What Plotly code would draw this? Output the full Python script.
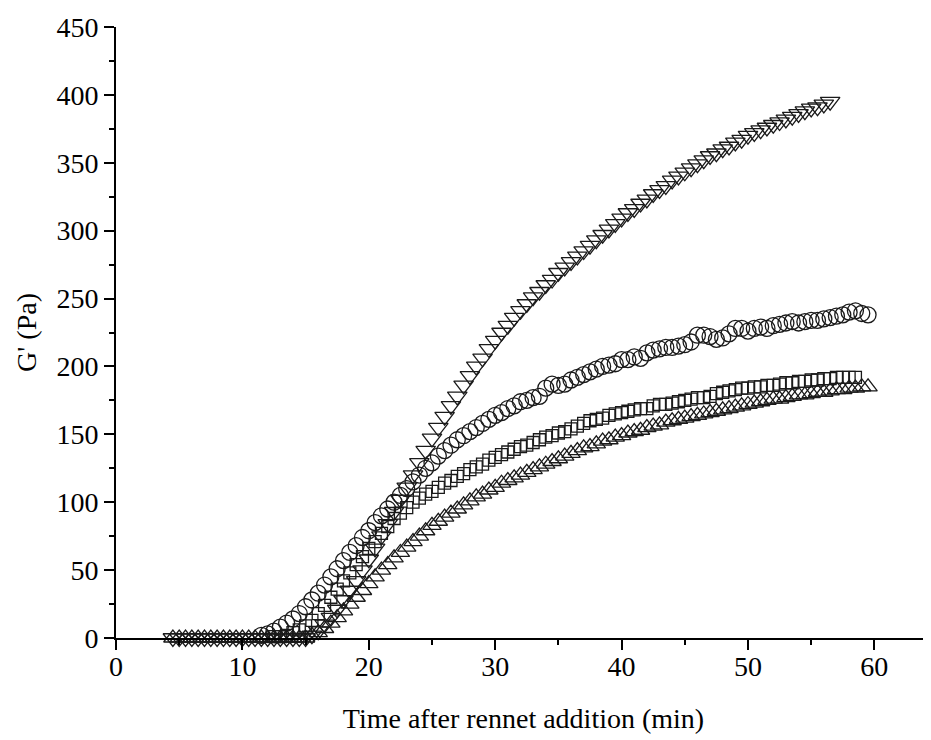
import plotly.graph_objects as go

# time grid of the rheometer readings (min)
time_min = [4.5, 5.0, 5.5, 6.0, 6.5, 7.0, 7.5, 8.0, 8.5, 9.0, 9.5, 10.0, 10.5, 11.0,
            11.5, 12.0, 12.5, 13.0, 13.5, 14.0, 14.5, 15.0, 15.5, 16.0, 16.5, 17.0,
            17.5, 18.0, 18.5, 19.0, 19.5, 20.0, 20.5, 21.0, 21.5, 22.0, 22.5, 23.0,
            23.5, 24.0, 24.5, 25.0, 25.5, 26.0, 26.5, 27.0, 27.5, 28.0, 28.5, 29.0,
            29.5, 30.0, 30.5, 31.0, 31.5, 32.0, 32.5, 33.0, 33.5, 34.0, 34.5, 35.0,
            35.5, 36.0, 36.5, 37.0, 37.5, 38.0, 38.5, 39.0, 39.5, 40.0, 40.5, 41.0,
            41.5, 42.0, 42.5, 43.0, 43.5, 44.0, 44.5, 45.0, 45.5, 46.0, 46.5, 47.0,
            47.5, 48.0, 48.5, 49.0, 49.5, 50.0, 50.5, 51.0, 51.5, 52.0, 52.5, 53.0,
            53.5, 54.0, 54.5, 55.0, 55.5, 56.0, 56.5, 57.0, 57.5, 58.0, 58.5, 59.0,
            59.5]

# G' (Pa) for each sample, starting at the given time
tri_down_start = 4.5
tri_down = [0] * 22 + [
    2, 5, 10, 15, 21, 28, 35, 42, 50, 58,
    66, 75, 84, 93, 102, 111, 120, 129, 138, 147,
    155, 163, 171, 178, 186, 193, 200, 206, 213, 219,
    225, 230, 236, 241, 246, 251, 255, 260, 264, 269,
    273, 277, 281, 285, 289, 293, 297, 301, 305, 309,
    313, 316, 320, 323, 327, 330, 333, 337, 340, 343,
    346, 349, 352, 355, 357, 360, 362, 365, 367, 370,
    372, 374, 376, 378, 380, 382, 384, 386, 388, 390,
    391, 393, 395]

circles_start = 11.5
circles = [
    2, 3, 5, 8, 11, 14, 18, 23, 28, 33,
    39, 45, 51, 57, 63, 68, 74, 79, 85, 90,
    95, 100, 105, 110, 115, 120, 125, 129, 134, 138,
    142, 146, 149, 152, 155, 158, 161, 164, 166, 169,
    171, 174, 175, 177, 178, 184, 187, 186, 187, 190,
    192, 194, 196, 198, 200, 201, 202, 205, 205, 207,
    206, 210, 212, 213, 214, 214, 215, 216, 218, 223,
    223, 222, 220, 221, 224, 228, 228, 226, 228, 229,
    228, 230, 231, 232, 233, 232, 233, 234, 234, 235,
    236, 237, 238, 240, 241, 239, 238]

squares_start = 12.5
squares = [
    1, 1, 2, 4, 6, 9, 13, 18, 24, 30,
    36, 42, 48, 54, 60, 66, 71, 77, 82, 88,
    92, 96, 100, 103, 106, 108, 111, 114, 116, 119,
    121, 124, 126, 128, 131, 133, 135, 137, 139, 141,
    142, 144, 146, 148, 149, 151, 152, 154, 156, 158,
    160, 161, 162, 164, 165, 166, 167, 168, 169, 169,
    171, 172, 172, 173, 174, 175, 176, 177, 177, 178,
    180, 181, 182, 183, 184, 184, 185, 185, 186, 186,
    187, 188, 188, 189, 189, 190, 190, 191, 191, 192,
    192, 192, 192]

tri_up_start = 4.5
tri_up = [0] * 22 + [
    2, 4, 7, 11, 15, 20, 25, 30, 35, 40,
    45, 50, 54, 59, 63, 67, 71, 75, 79, 83,
    86, 89, 92, 95, 98, 101, 104, 106, 109, 111,
    114, 116, 118, 120, 122, 124, 126, 128, 130, 132,
    134, 136, 138, 140, 141, 143, 145, 146, 148, 149,
    151, 152, 153, 155, 156, 157, 159, 160, 161, 162,
    163, 164, 165, 166, 167, 168, 169, 170, 171, 172,
    173, 174, 175, 176, 176, 177, 178, 179, 179, 180,
    181, 181, 182, 183, 183, 184, 184, 185, 185]


def times_for(start, vals):
    i0 = time_min.index(start)
    return time_min[i0:i0 + len(vals)]


FONT = "Liberation Serif, Times New Roman, serif"
INK = "#1a1a1a"

fig = go.Figure()

series = [
    (squares_start, squares, "square-open", 12),
    (tri_up_start, tri_up, "triangle-up-open", 16),
    (circles_start, circles, "circle-open", 16),
    (tri_down_start, tri_down, "triangle-down-open", 17),
]
for start, vals, sym, size in series:
    fig.add_trace(go.Scatter(
        x=times_for(start, vals), y=vals, mode="markers",
        marker=dict(symbol=sym, size=size, color=INK, line=dict(width=1.3, color=INK)),
        cliponaxis=False, showlegend=False,
    ))

axis_common = dict(
    showline=True, linecolor="black", linewidth=2,
    ticks="outside", ticklen=10, tickwidth=2, tickcolor="black",
    showgrid=False, zeroline=False, automargin=False,
    tickfont=dict(family=FONT, size=28, color="black"),
    title_font=dict(family=FONT, size=28, color="black"),
)

fig.update_xaxes(
    range=[0, 64.48], tick0=0, dtick=10, ticklabelstandoff=-8,
    minor=dict(ticks="outside", ticklen=5, tickwidth=2, tickcolor="black", dtick=5, showgrid=False),
    title_text="Time after rennet addition (min)", title_standoff=28,
    **axis_common,
)
fig.update_yaxes(
    range=[0, 450], tick0=0, dtick=50,
    minor=dict(ticks="outside", ticklen=5, tickwidth=2, tickcolor="black", dtick=25, showgrid=False),
    title_text="G' (Pa)", title_standoff=12,
    **axis_common,
)

# the page body adds an 8 px offset, so the figure is 8 px smaller
fig.update_layout(
    width=923, height=732,
    margin=dict(l=108, r=0, t=19, b=102),
    plot_bgcolor="white", paper_bgcolor="white",
    font=dict(family=FONT, color="black"),
)

fig.write_html("out.html")
